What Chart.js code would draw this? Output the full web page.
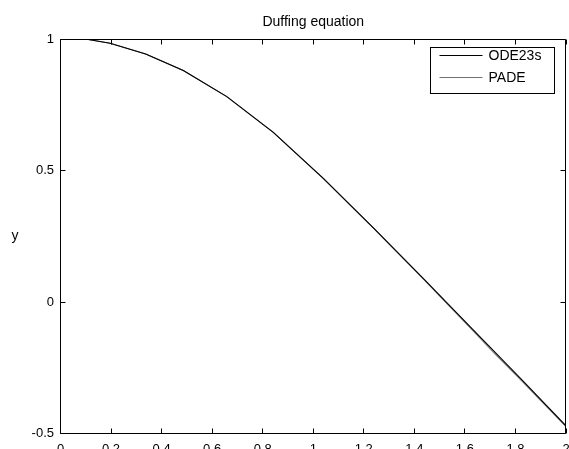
<!DOCTYPE html>
<html>
<head>
<meta charset="utf-8">
<title>Duffing equation</title>
<script src="https://cdn.jsdelivr.net/npm/chart.js@4.4.0/dist/chart.umd.min.js"></script>
<style>
  html, body { margin: 0; padding: 0; background: #fff; overflow: hidden; }
  canvas { display: block; }
</style>
</head>
<body>
<canvas id="chart" width="569" height="458"></canvas>
<script>
// values
var odeT = [0, 0.11, 0.196, 0.337, 0.486, 0.658, 0.842, 1.04, 1.24, 1.44, 1.63, 1.82, 2.0];
var odeY = [1.0, 0.998, 0.984, 0.943, 0.880, 0.781, 0.645, 0.470, 0.280, 0.085, -0.103, -0.290, -0.471];

var padeT = [0, 0.11, 0.196, 0.337, 0.486, 0.658, 0.842, 1.04, 1.24, 1.44, 1.53, 1.63, 1.72, 1.82, 1.91, 2.0];
var padeY = [1.0, 0.998, 0.984, 0.943, 0.880, 0.781, 0.645, 0.469, 0.279, 0.083, -0.007, -0.107, -0.198, -0.295, -0.384, -0.474];

var seriesNames = ['ODE23s', 'PADE'];
var chartTitle = 'Duffing equation';
var yTitle = 'y';

var FONT = "'Liberation Sans', Arial, Helvetica, sans-serif";
Chart.defaults.font.family = FONT;
Chart.defaults.color = '#000';

function toPoints(xs, ys) {
    return xs.map(function (t, i) { return {x: t, y: ys[i]}; });
}

function snap(v) {
    return Math.floor(v) + 0.5;
}

// plain number labels like MATLAB: 1, 0.5, 0, -0.5
function plainLabel(value) {
    return String(Math.round(value * 100) / 100);
}

// MATLAB style box, inward ticks on all sides, inset legend and upright y label
var matlabFrame = {
    id: 'matlabFrame',
    afterDatasetsDraw: function (chart) {
        var ctx = chart.ctx;
        var a = chart.chartArea;
        var xs = chart.scales.x, ys = chart.scales.y;
        var L = snap(a.left), R = snap(a.right - 0.5), T = snap(a.top), B = snap(a.bottom);
        var tick = 5;

        ctx.save();
        ctx.strokeStyle = '#000';
        ctx.lineWidth = 1;
        ctx.beginPath();
        ctx.rect(L, T, R - L, B - T);
        xs.ticks.forEach(function (t) {
            var px = snap(xs.getPixelForValue(t.value));
            ctx.moveTo(px, B); ctx.lineTo(px, B - tick);
            ctx.moveTo(px, T); ctx.lineTo(px, T + tick);
        });
        ys.ticks.forEach(function (t) {
            var py = snap(ys.getPixelForValue(t.value));
            ctx.moveTo(L, py); ctx.lineTo(L + tick, py);
            ctx.moveTo(R, py); ctx.lineTo(R - tick, py);
        });
        ctx.stroke();

        // legend
        var lw = 124, lh = 46;
        var lx = R - 11 - lw, ly = T + 8;
        ctx.fillStyle = '#fff';
        ctx.fillRect(lx, ly, lw, lh);
        ctx.strokeRect(lx, ly, lw, lh);
        ctx.font = '14px ' + FONT;
        ctx.textBaseline = 'middle';
        ctx.textAlign = 'left';
        chart.data.datasets.forEach(function (ds, i) {
            var rowY = ly + 8 + i * 22;
            ctx.strokeStyle = ds.borderColor;
            ctx.beginPath();
            ctx.moveTo(lx + 9, snap(rowY));
            ctx.lineTo(lx + 52, snap(rowY));
            ctx.stroke();
            ctx.fillStyle = '#000';
            ctx.fillText(ds.label, lx + 58, rowY + 1);
        });

        // y label (upright)
        ctx.font = '14px ' + FONT;
        ctx.textAlign = 'center';
        ctx.fillText(yTitle, 15, (a.top + a.bottom) / 2);
        ctx.restore();
    }
};

var ctx = document.getElementById('chart');

var chart = new Chart(ctx, {
    type: 'line',
    data: {
        datasets: [{
            label: seriesNames[0],
            data: toPoints(odeT, odeY),
            borderColor: '#000000',
            borderWidth: 1.1,
            pointRadius: 0,
            tension: 0,
            fill: false
        }, {
            label: seriesNames[1],
            data: toPoints(padeT, padeY),
            borderColor: '#707070',
            borderWidth: 1.1,
            pointRadius: 0,
            tension: 0,
            fill: false
        }]
    },
    options: {
        responsive: false,
        animation: false,
        events: [],
        layout: {
            padding: {left: 0, right: 0, top: 0, bottom: 0}
        },
        plugins: {
            legend: {display: false},
            tooltip: {enabled: false},
            title: {
                display: true,
                text: chartTitle,
                fullSize: false,
                color: '#000',
                font: {size: 14, weight: 'normal'},
                padding: {top: 14, bottom: 8.2}
            }
        },
        scales: {
            x: {
                type: 'linear',
                min: 0,
                max: 2,
                grid: {display: false, drawTicks: false},
                border: {display: false},
                ticks: {
                    stepSize: 0.2,
                    padding: 8,
                    maxRotation: 0,
                    autoSkip: false,
                    font: {size: 13},
                    callback: plainLabel
                },
                afterFit: function (scale) {
                    scale.height = 24.5;
                    scale.paddingLeft = 0;
                    scale.paddingRight = 3;
                }
            },
            y: {
                type: 'linear',
                min: -0.5,
                max: 1,
                grid: {display: false, drawTicks: false},
                border: {display: false},
                ticks: {
                    stepSize: 0.5,
                    padding: 6.5,
                    font: {size: 13},
                    callback: plainLabel
                },
                afterFit: function (scale) {
                    scale.width = 60.5;
                    scale.paddingTop = 0;
                    scale.paddingBottom = 0;
                }
            }
        }
    },
    plugins: [matlabFrame]
});
</script>
</body>
</html>
